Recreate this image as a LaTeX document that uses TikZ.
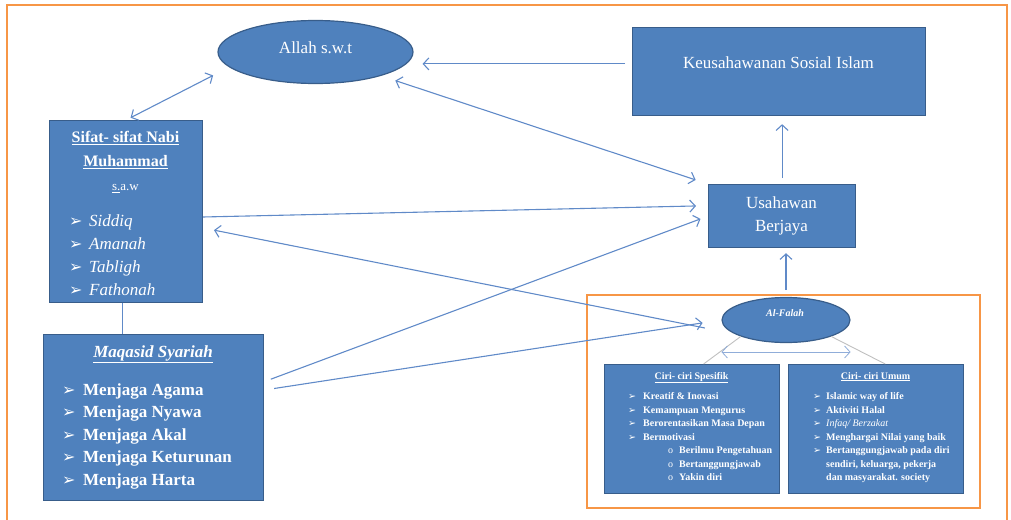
\documentclass[tikz,border=0pt]{standalone}
\usepackage{fontspec}
\setmainfont{Liberation Serif}
\newfontfamily\symfont{DejaVu Sans}
\usetikzlibrary{arrows.meta,shapes.geometric}

\definecolor{boxblue}{RGB}{79,129,189}
\definecolor{boxline}{RGB}{56,93,138}
\definecolor{arrowblue}{RGB}{96,138,200}
\definecolor{frameorange}{RGB}{247,150,70}

% bullet of the lists: width of its column, size of the glyph
\newcommand{\listbul}[2]{\strut\makebox[#1][l]{\symfont\upshape\mdseries\fontsize{#2}{#2}\selectfont ➢}}
\newcommand{\subbul}[1]{\strut\makebox[#1][l]{\mdseries o}}

\begin{document}
\begin{tikzpicture}[
        x=1pt, y=-1pt,
        main_box/.style={rectangle, draw=boxline, line width=1.2pt, fill=boxblue, inner sep=0pt, anchor=north west},
        oval/.style={ellipse, draw=boxline, line width=1.2pt, fill=boxblue, inner sep=0pt},
        box_text/.style={text=white, inner sep=0pt, anchor=base, align=center},
        block_text/.style={text=white, inner sep=0pt, anchor=north, align=center},
        list_text/.style={text=white, inner sep=0pt, anchor=north west, align=left},
        frame/.style={draw=frameorange, line width=2.5pt},
        arrow/.style={-{Straight Barb[length=5.5pt, width=12pt]}, line width=1.1pt, color=arrowblue},
        dbl_arrow/.style={arrow, {Straight Barb[length=5.5pt, width=12pt]}-{Straight Barb[length=5.5pt, width=12pt]}},
        link/.style={draw=gray!50, line width=0.9pt}
    ]
    \useasboundingbox (0,0) rectangle (1011,519);

    % Frames
    \draw[frame] (7,5) rectangle (1007,540);
    \draw[frame, line width=2pt] (587,295) rectangle (980,508);

    % Top row
    \node[oval, minimum width=195pt, minimum height=63pt] (allah) at (315.5,52) {};
    \node[main_box, minimum width=293pt, minimum height=88pt] (keus) at (632,27) {};
    \node[main_box, minimum width=147pt, minimum height=63pt] (usaha) at (708,184) {};

    % Left column
    \node[main_box, minimum width=153pt, minimum height=182pt] (sifat) at (49,120) {};
    \node[main_box, minimum width=220pt, minimum height=166pt] (maqasid) at (43,334) {};

    % Al-Falah group
    \node[main_box, minimum width=175pt, minimum height=129pt] (spes) at (604,364) {};
    \node[main_box, minimum width=175pt, minimum height=129pt] (umum) at (788,364) {};
    \node[oval, minimum width=128pt, minimum height=45pt] (falah) at (786,320) {};

    % Texts
    \node[box_text, font=\fontsize{17}{20}\selectfont] (allah_txt) at (315.5,53) {Allah s.w.t};
    \node[box_text, font=\fontsize{17}{20}\selectfont] (keus_txt) at (778.5,69) {Keusahawanan Sosial Islam};
    \node[block_text, font=\fontsize{17}{23}\selectfont] (usaha_txt) at (781.5,191.9) {\strut Usahawan\\Berjaya};
    \node[box_text, font=\fontsize{10}{12}\selectfont\bfseries\itshape] (falah_txt) at (785,316) {Al-Falah};

    \node[block_text, font=\fontsize{16}{24}\selectfont\bfseries] (sifat_title) at (125.5,125.2)
        {\strut\underline{Sifat- sifat Nabi}\\\underline{Muhammad}\\{\mdseries\fontsize{13}{24}\selectfont\underline{s.}a.w}};
    \node[list_text, font=\fontsize{17}{23}\selectfont\itshape] (sifat_list) at (69,209.9)
        {\listbul{20pt}{16}Siddiq\\\listbul{20pt}{16}Amanah\\\listbul{20pt}{16}Tabligh\\\listbul{20pt}{16}Fathonah};

    \node[box_text, font=\fontsize{17}{20}\selectfont\bfseries\itshape] (maqasid_title) at (153,357) {\underline{Maqasid Syariah}};
    \node[list_text, font=\fontsize{17}{22.5}\selectfont\bfseries] (maqasid_list) at (62,379.25)
        {\listbul{21pt}{16}Menjaga Agama\\\listbul{21pt}{16}Menjaga Nyawa\\\listbul{21pt}{16}Menjaga Akal\\
         \listbul{21pt}{16}Menjaga Keturunan\\\listbul{21pt}{16}Menjaga Harta};

    \node[box_text, font=\fontsize{10}{12}\selectfont\bfseries] (spes_title) at (691.5,379) {\underline{Ciri- ciri Spesifik}};
    \node[list_text, font=\fontsize{10}{13.5}\selectfont\bfseries] (spes_list) at (628,390.05)
        {\listbul{15pt}{9.5}Kreatif \& Inovasi\\
         \listbul{15pt}{9.5}Kemampuan Mengurus\\
         \listbul{15pt}{9.5}Berorentasikan Masa Depan\\
         \listbul{15pt}{9.5}Bermotivasi\\
         \hspace*{40pt}\subbul{11pt}Berilmu Pengetahuan\\
         \hspace*{40pt}\subbul{11pt}Bertanggungjawab\\
         \hspace*{40pt}\subbul{11pt}Yakin diri};

    \node[box_text, font=\fontsize{10}{12}\selectfont\bfseries] (umum_title) at (875.5,379) {\underline{Ciri- ciri Umum}};
    \node[list_text, font=\fontsize{10}{13.5}\selectfont\bfseries] (umum_list) at (813,390.05)
        {\listbul{13pt}{9.5}Islamic way of life\\
         \listbul{13pt}{9.5}Aktiviti Halal\\
         \listbul{13pt}{9.5}\textmd{\textit{Infaq/ Berzakat}}\\
         \listbul{13pt}{9.5}Menghargai Nilai yang baik\\
         \listbul{13pt}{9.5}Bertanggungjawab pada diri\\
         \strut\hspace*{13pt}sendiri, keluarga, pekerja\\
         \strut\hspace*{13pt}dan masyarakat. society};

    % Arrows
    \draw[dbl_arrow, shorten <=5pt, shorten >=18pt] (sifat.north) -- (allah.190);
    \draw[arrow, shorten <=7pt, shorten >=9pt] (keus.177) -- (keus.177 -| allah.east);
    \draw[arrow, shorten <=6pt, shorten >=8pt] (usaha.north) -- (usaha.north |- keus.south);
    \draw[dbl_arrow, shorten <=15pt, shorten >=13pt] (allah.-20) -- (usaha.north west);
    \draw[arrow, shorten >=12pt] (sifat.-4) -- (usaha.172);
    \draw[arrow, shorten <=30pt, shorten >=11pt] (falah.195) -- (sifat.-12);
    \draw[arrow, shorten <=7pt, shorten >=8pt] (maqasid.18.6) -- (usaha.west);
    \draw[arrow, shorten <=10pt, shorten >=19pt] (maqasid.14) -- (falah.west);
    \draw[arrow, shorten <=7pt, shorten >=5pt] (falah.north) -- (falah.north |- usaha.south);
    \draw[draw=arrowblue, line width=1pt] (sifat.-92) -- (sifat.-92 |- maqasid.north);

    % Al-Falah links
    \draw[link] (falah.200) -- (spes.80);
    \draw[link] (falah.-20) -- (umum.82);
    \draw[dbl_arrow, color=arrowblue!70, line width=0.8pt] ([yshift=-32pt]falah.west) -- ([yshift=-32pt]falah.east);

\end{tikzpicture}
\end{document}
